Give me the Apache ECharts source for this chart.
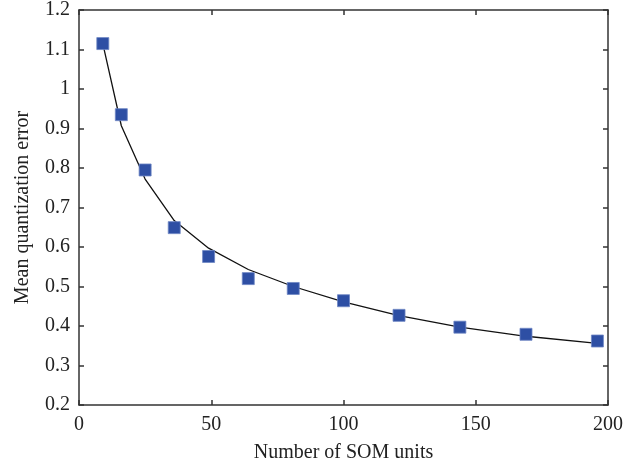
<!DOCTYPE html>
<html>
<head>
<meta charset="utf-8">
<script src="https://cdn.jsdelivr.net/npm/echarts@6/dist/echarts.min.js"></script>
<style>
  html, body { margin: 0; padding: 0; background: #fff; }
  #chart { width: 638px; height: 469px; }
</style>
</head>
<body>
<div id="chart"></div>
<script>
// number of SOM units (x)
const somUnits = [9, 16, 25, 36, 49, 64, 81, 100, 121, 144, 169, 196];
// measured mean quantization error (squares)
const measuredError = [1.115, 0.935, 0.795, 0.649, 0.576, 0.520, 0.495, 0.464, 0.427, 0.397, 0.379, 0.362];
// fitted curve (line)
const fittedError = [1.115, 0.907, 0.772, 0.667, 0.597, 0.543, 0.500, 0.461, 0.426, 0.397, 0.374, 0.356];

const font = '"Liberation Serif", "DejaVu Serif", serif';
const axisColor = '#333';

const myChart = echarts.init(document.getElementById('chart'));

const baseAxis = {
  axisLine: { show: true, onZero: false, lineStyle: { color: axisColor, width: 1.5 } },
  axisTick: { show: true, inside: true, length: 5, lineStyle: { color: axisColor, width: 1.5 } },
  splitLine: { show: false },
};

const option = {
  animation: false,
  backgroundColor: '#fff',
  grid: { left: 79, right: 30, top: 9, bottom: 64 },
  xAxis: [
    {
      ...baseAxis,
      type: 'value',
      min: 0,
      max: 200,
      interval: 50,
      name: 'Number of SOM units',
      nameLocation: 'middle',
      nameGap: 38,
      nameTextStyle: { fontFamily: font, fontSize: 20, color: '#222' },
      axisLabel: { fontFamily: font, fontSize: 20, color: '#222', margin: 10 },
    },
    {
      ...baseAxis,
      type: 'value',
      position: 'top',
      min: 0,
      max: 200,
      interval: 50,
      axisLabel: { show: false },
    },
  ],
  yAxis: [
    {
      ...baseAxis,
      type: 'value',
      min: 0.2,
      max: 1.2,
      interval: 0.1,
      name: 'Mean quantization error',
      nameLocation: 'middle',
      nameGap: 46,
      nameTextStyle: { fontFamily: font, fontSize: 20, color: '#222' },
      axisLabel: { fontFamily: font, fontSize: 20, color: '#222', margin: 9 },
    },
    {
      ...baseAxis,
      type: 'value',
      position: 'right',
      min: 0.2,
      max: 1.2,
      interval: 0.1,
      axisLabel: { show: false },
    },
  ],
  series: [
    {
      name: 'fit',
      type: 'line',
      data: somUnits.map((x, i) => [x, fittedError[i]]),
      symbol: 'none',
      lineStyle: { color: '#111', width: 1.3 },
      z: 2,
    },
    {
      name: 'measured',
      type: 'scatter',
      data: somUnits.map((x, i) => [x, measuredError[i]]),
      symbol: 'rect',
      symbolSize: 12,
      itemStyle: { color: '#2e4fa4', borderColor: '#6f86c4', borderWidth: 0.8, opacity: 1 },
      z: 3,
    },
  ],
};

myChart.setOption(option);
</script>
</body>
</html>
